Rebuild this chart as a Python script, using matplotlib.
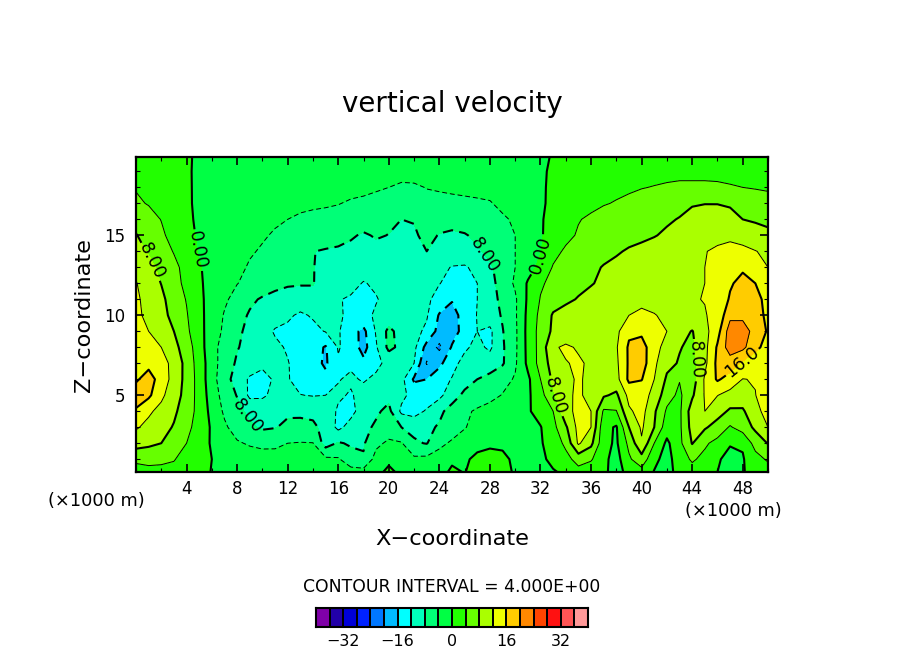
#!/usr/bin/env python
# -*- coding: utf-8 -*-
"""vertical velocity contour plot"""
import numpy as np
import matplotlib
matplotlib.use("Agg")
import matplotlib.pyplot as plt
from matplotlib.ticker import MultipleLocator

# x in km, z in km, one row of w per height
x_km = np.arange(0, 51)
z_km = [0.2] + list(range(1, 21))

w_z00 = [3.6,3.4,3.2,3.0,2.0,0.8,-0.1,-0.6,-1.0,-1.2, -1.4,-1.5,-1.5,-1.4,-1.4,-1.5,-1.6,-2.5,-2.5,-0.5, 0.4,-0.4,-1.2,-1.0,-0.8,0.4,-0.1,1.0,1.2,1.1, -0.4,-0.4,-0.3,-0.2,0.4,2.6,1.8,0.6,-1.2,1.0, 2.6,-0.2,-1.0,1.0,2.6,1.4,0.0,-1.0,-0.2,1.0,2.0]
w_z01 = [4.2,4.6,4.6,4.2,2.6,1.0,0.0,-1.0,-1.6,-2.2, -2.6,-2.7,-2.6,-2.6,-2.8,-3.2,-3.6,-6.4,-7.6,-2.4, -0.4,-1.8,-3.2,-3.0,-2.2,-0.4,-0.4,0.6,0.8,0.7, -0.6,-0.5,-0.5,0.6,2.6,5.6,4.4,1.0,-1.6,3.4, 6.4,1.0,-1.5,2.2,4.5,3.0,0.6,-1.6,-0.3,2.4,4.6]
w_z02 = [10.0,9.0,8.0,6.2,4.0,1.8,-0.4,-2.4,-3.6,-4.4, -4.8,-4.7,-4.0,-3.8,-3.9,-9.8,-7.6,-8.5,-8.4,-5.0, -3.2,-3.7,-7.5,-8.2,-5.0,-3.4,-2.4,-0.8,-0.4,-0.6, -1.0,-0.8,-0.3,1.4,5.0,12.6,9.0,1.2,-0.6,5.0, 11.5,4.0,-0.8,3.0,8.2,4.6,2.8,0.4,0.4,5.6,8.2]
w_z03 = [12.4,11.0,9.4,7.7,5.0,2.5,-0.5,-3.4,-5.6,-7.2, -8.6,-8.2,-7.2,-7.0,-7.4,-9.0,-13.0,-10.5,-9.0,-7.4, -6.4,-8.0,-9.0,-8.8,-7.6,-6.0,-4.2,-2.8,-1.8,-1.2, -0.9,-0.6,-0.2,2.8,7.4,13.2,12.0,1.2,-0.4,8.0, 12.6,8.0,1.8,3.2,9.5,8.5,6.4,3.6,5.8,8.8,12.0]
w_z04 = [15.5,12.6,10.9,8.7,6.0,2.7,-1.2,-4.6,-6.8,-9.0, -9.6,-10.0,-8.6,-8.7,-8.8,-9.5,-12.6,-13.2,-10.0,-8.6, -7.0,-12.8,-13.6,-11.5,-8.8,-6.6,-4.8,-3.4,-2.5,-1.8, -1.2,-0.5,1.6,4.0,10.8,13.0,12.0,3.4,3.8,11.4, 13.4,8.6,3.4,3.2,10.0,12.0,9.6,7.4,7.4,11.2,13.0]
w_z05 = [18.0,16.8,12.8,9.8,6.6,2.5,-1.8,-5.6,-8.2,-12.8, -12.6,-11.0,-11.4,-11.9,-12.2,-12.0,-11.4,-12.4,-10.5,-10.5, -9.0,-11.0,-13.4,-14.5,-13.0,-9.6,-7.2,-6.4,-5.2,-3.8, -2.6,-0.7,2.5,7.4,11.0,12.8,10.4,8.5,7.2,13.2, 13.4,11.0,5.5,3.2,7.4,12.3,12.1,10.6,10.5,11.9,14.5]
w_z06 = [15.5,17.5,14.5,10.4,6.8,2.4,-2.4,-6.6,-9.5,-12.6, -13.6,-11.4,-11.7,-13.6,-15.0,-15.0,-12.2,-11.4,-12.4,-11.2, -10.0,-10.8,-16.6,-16.0,-13.5,-11.8,-9.5,-8.0,-6.8,-5.4, -3.6,-0.8,4.0,8.8,11.0,12.5,11.0,10.4,10.6,16.8, 16.2,12.0,7.4,4.2,5.8,12.5,16.5,14.5,11.9,12.2,12.6]
w_z07 = [14.0,15.0,13.4,10.9,6.6,2.2,-2.2,-6.0,-8.5,-9.6, -11.0,-11.2,-11.8,-13.6,-14.6,-16.6,-12.4,-12.6,-15.0,-13.0, -10.8,-10.6,-12.0,-20.4,-17.0,-13.2,-10.8,-10.3,-10.0,-8.4, -4.6,0.9,5.4,9.8,11.8,12.5,11.4,11.0,11.2,16.6, 18.0,12.8,9.0,7.7,6.6,11.0,17.0,18.0,15.2,13.6,12.8]
w_z08 = [13.2,12.8,12.0,9.2,6.0,1.8,-2.6,-5.6,-7.8,-9.0, -10.2,-11.2,-12.4,-13.4,-14.2,-16.4,-11.7,-13.6,-17.5,-12.4, -7.0,-9.0,-11.0,-17.5,-20.8,-15.6,-12.6,-11.0,-12.7,-8.5, -4.8,1.1,5.4,11.5,12.6,11.6,11.0,11.2,11.6,16.6, 18.0,13.0,11.0,8.2,7.2,10.8,16.5,22.0,21.0,17.0,14.5]
w_z09 = [13.0,12.0,9.6,8.0,4.8,1.3,-2.0,-4.7,-7.4,-8.8, -10.4,-12.4,-12.8,-13.2,-13.0,-11.8,-11.6,-14.5,-17.0,-11.6, -7.0,-9.5,-10.8,-12.8,-17.5,-17.8,-14.5,-12.0,-12.8,-8.2, -4.8,1.2,5.4,8.7,9.6,10.2,10.8,11.2,11.0,15.2, 15.0,13.2,12.0,9.6,7.8,10.8,14.5,22.0,22.0,18.4,15.6]
w_z10 = [12.8,11.1,9.2,6.9,4.3,1.0,-1.6,-4.3,-6.6,-8.4, -9.4,-10.2,-11.4,-12.6,-11.6,-10.6,-11.5,-12.8,-13.0,-11.5, -10.2,-10.0,-10.4,-11.6,-16.4,-17.0,-15.0,-11.8,-10.0,-7.6, -4.6,1.0,5.0,8.4,9.2,9.8,10.3,10.7,11.2,12.0, 12.8,12.1,11.6,11.4,11.4,11.8,13.0,19.0,19.0,17.8,15.0]
w_z11 = [12.6,10.8,8.9,6.1,3.8,0.8,-1.4,-3.4,-5.3,-7.3, -8.4,-9.2,-9.8,-9.8,-8.6,-9.0,-11.8,-12.4,-12.6,-12.2, -11.0,-10.5,-10.6,-11.4,-13.2,-15.8,-15.0,-12.0,-9.6,-7.0, -4.6,0.6,4.2,6.3,7.4,8.2,9.0,9.6,10.1,10.6, 11.0,11.3,11.5,11.7,11.8,12.1,14.0,16.3,17.5,17.0,15.0]
w_z12 = [12.2,10.0,7.9,5.4,3.0,0.5,-1.2,-2.6,-3.9,-5.0, -6.0,-6.9,-7.5,-7.7,-7.9,-9.0,-10.2,-11.0,-12.2,-11.5, -10.8,-10.8,-11.0,-11.5,-11.9,-13.0,-13.8,-12.0,-9.2,-6.5, -3.4,0.4,3.5,5.0,6.3,7.2,7.8,8.6,9.2,9.8, 10.3,10.7,11.0,11.3,11.6,12.0,14.0,15.7,16.8,16.0,14.5]
w_z13 = [11.0,9.2,7.0,4.9,2.8,0.3,-1.2,-2.3,-3.3,-4.3, -5.0,-5.8,-6.6,-7.4,-7.9,-8.8,-9.4,-10.0,-10.6,-10.4, -10.2,-10.4,-10.2,-10.2,-11.0,-12.2,-12.4,-11.0,-8.6,-6.2, -4.0,-1.5,1.0,4.3,5.5,6.4,7.3,8.2,8.9,9.6, 10.2,10.7,11.2,11.5,11.8,12.0,13.0,14.6,15.6,14.2,12.0]
w_z14 = [9.5,7.6,5.6,3.8,1.8,-0.3,-1.4,-2.3,-3.0,-3.7, -4.3,-5.0,-5.8,-6.7,-7.9,-8.4,-8.8,-9.1,-9.5,-9.2, -9.3,-9.8,-9.2,-8.0,-9.0,-9.6,-9.6,-8.6,-7.0,-5.6, -4.0,-2.0,-0.2,2.8,4.6,5.4,6.2,7.0,7.6,8.4, 9.0,9.6,10.2,10.8,11.2,11.9,12.4,12.6,12.5,12.1,11.4]
w_z15 = [8.2,6.4,4.6,2.8,1.1,-0.5,-1.5,-2.2,-2.8,-3.3, -3.7,-4.3,-4.8,-5.2,-5.5,-5.8,-6.2,-7.5,-8.5,-7.6, -8.1,-9.0,-8.5,-7.0,-8.2,-8.8,-8.3,-7.2,-6.2,-5.2, -4.0,-2.3,-0.3,1.2,3.0,4.4,5.2,5.8,6.3,6.8, 7.2,7.8,8.6,9.2,10.0,10.8,11.3,11.6,11.2,10.2,9.2]
w_z16 = [6.5,5.2,3.9,2.5,0.9,-0.8,-1.5,-2.1,-2.6,-3.0, -3.3,-3.6,-4.0,-4.4,-4.6,-4.8,-5.0,-5.5,-6.0,-6.5, -7.2,-8.0,-7.8,-7.0,-6.5,-6.3,-6.1,-5.8,-5.4,-4.6, -3.4,-1.8,-0.3,1.0,2.5,3.8,4.6,5.2,5.6,6.0, 6.5,7.0,7.5,8.2,9.5,9.8,9.7,9.4,8.0,7.4,6.8]
w_z17 = [4.5,3.8,2.8,1.8,0.6,-0.8,-1.4,-1.9,-2.3,-2.6, -2.8,-3.0,-3.2,-3.4,-3.6,-3.7,-3.9,-4.3,-4.5,-4.8, -5.1,-5.4,-5.2,-4.9,-4.8,-4.7,-4.6,-4.5,-4.3,-3.0, -2.2,-1.3,-0.4,0.6,1.6,2.4,3.1,3.8,4.2,4.6, 5.0,5.5,6.0,6.8,7.6,7.9,7.9,7.5,7.0,6.4,5.8]
w_z18 = [3.8,3.2,2.4,1.5,0.5,-0.7,-1.2,-1.6,-1.9,-2.1, -2.3,-2.5,-2.6,-2.7,-2.8,-2.9,-3.0,-3.2,-3.4,-3.7, -4.0,-4.5,-4.4,-3.9,-3.7,-3.5,-3.3,-3.0,-2.6,-2.2, -1.7,-1.1,-0.3,0.4,1.2,1.9,2.5,3.0,3.3,3.6, 3.9,4.1,4.3,4.5,4.5,4.5,4.4,4.2,4.0,3.7,3.4]
w_z19 = [3.0,2.6,2.0,1.2,0.4,-0.6,-1.0,-1.3,-1.5,-1.6, -1.7,-1.8,-1.9,-2.0,-2.0,-2.1,-2.2,-2.3,-2.4,-2.5, -2.7,-2.9,-2.9,-2.8,-2.7,-2.6,-2.4,-2.2,-2.0,-1.7, -1.4,-1.0,-0.3,0.3,0.8,1.3,1.8,2.2,2.5,2.8, 3.0,3.2,3.3,3.3,3.3,3.3,3.3,3.2,3.0,2.9,2.7]
w_z20 = [2.0,1.8,1.5,1.0,0.4,-0.5,-0.9,-1.1,-1.2,-1.3, -1.4,-1.4,-1.5,-1.5,-1.5,-1.6,-1.6,-1.6,-1.6,-1.7, -1.8,-1.8,-1.8,-1.7,-1.6,-1.6,-1.5,-1.4,-1.3,-1.2, -1.0,-0.7,-0.3,0.1,0.5,1.0,1.4,1.7,2.0,2.2, 2.4,2.5,2.6,2.6,2.6,2.6,2.6,2.5,2.4,2.3,2.2]

# contour levels and fill colours (one colour per interval)
levels_fill = np.arange(-40, 41, 4)
colors_fill = ['#7f00a8', '#2200a8', '#0000d8', '#0022ff', '#0077ff', '#00bbff',
               '#00ffff', '#00ffbb', '#00ff77', '#00ff44', '#22ff00', '#66ff00',
               '#aaff00', '#eeff00', '#ffcc00', '#ff8800', '#ff4400', '#ff1111',
               '#ff5555', '#ff9999']
levels_plain = [-20, -16, -12, -4, 4, 12, 20]
levels_labelled = [-8, 0, 8, 16]
cbar_ticks = [-32, -16, 0, 16, 32]
x_ticks = list(range(4, 49, 4))
z_ticks = [5, 10, 15]
label_fmt = {-8: '8.00', 0: '0.00', 8: '8.00', 16: '16.0'}
label_xs = [1.3, 5.2, 8.8, 27.5, 31.5, 33.4, 44.4, 47.7]
label_zs = [13.4, 14.1, 3.7, 13.7, 13.9, 5.0, 7.2, 7.4]

w = np.array([w_z00, w_z01, w_z02, w_z03, w_z04, w_z05, w_z06, w_z07, w_z08, w_z09,
              w_z10, w_z11, w_z12, w_z13, w_z14, w_z15, w_z16, w_z17, w_z18, w_z19, w_z20])

W, H = 904, 654
fig = plt.figure(figsize=(W / 100, H / 100), dpi=100)
ax = fig.add_axes([136 / W, 1 - 472 / H, 632 / W, 315 / H])

ax.contourf(x_km, z_km, w, levels=levels_fill, colors=colors_fill)

# bold every second level, dashed below zero
dash = (0, (5, 3))
lws = [1.5 if lv % 8 == 0 else 0.7 for lv in levels_plain]
lss = [dash if lv < 0 else 'solid' for lv in levels_plain]
ax.contour(x_km, z_km, w, levels=levels_plain, colors='k', linewidths=lws, linestyles=lss)

# clabel with a subset of levels breaks on manual positions, so labelled levels get their own set
lss = [dash if lv < 0 else 'solid' for lv in levels_labelled]
cs = ax.contour(x_km, z_km, w, levels=levels_labelled, colors='k', linewidths=1.5, linestyles=lss)

ax.set_xlim(0, 50)
ax.set_ylim(0.2, 19.9)
ax.set_xticks(x_ticks)
ax.set_yticks(z_ticks)
ax.xaxis.set_minor_locator(MultipleLocator(2))
ax.yaxis.set_minor_locator(MultipleLocator(1))
ax.tick_params(which='major', direction='in', top=True, right=True, length=6, width=1.2, labelsize=12)
ax.tick_params(which='minor', direction='in', top=True, right=True, length=3, width=0.8)
ax.tick_params(axis='x', which='major', pad=6)
ax.tick_params(axis='y', which='major', pad=8)
for sp in ax.spines.values():
    sp.set_linewidth(1.6)

ax.clabel(cs, manual=list(zip(label_xs, label_zs)), fmt=label_fmt,
          fontsize=12.5, inline=True, inline_spacing=2)

fig.text(452 / W, 1 - 104 / H, 'vertical velocity', fontsize=20, ha='center', va='center')
fig.text(452 / W, 1 - 539 / H, 'X\u2212coordinate', fontsize=16.2, ha='center', va='center')
fig.text(84 / W, 1 - 315 / H, 'Z\u2212coordinate', fontsize=16.2, ha='center', va='center', rotation=90)
fig.text(96 / W, 1 - 501 / H, '(\u00d71000 m)', fontsize=12.8, ha='center', va='center')
fig.text(733 / W, 1 - 511 / H, '(\u00d71000 m)', fontsize=12.8, ha='center', va='center')
fig.text(452 / W, 1 - 587 / H, 'CONTOUR INTERVAL = 4.000E+00', fontsize=12.4, ha='center', va='center')

# colour key
cax = fig.add_axes([316 / W, 1 - 627 / H, 272 / W, 19 / H])
cax.pcolormesh(levels_fill, [0, 1], np.array([levels_fill[:-1] + 2]),
               cmap=matplotlib.colors.ListedColormap(colors_fill), vmin=-40, vmax=40,
               edgecolors='k', linewidth=1.3)
cax.set_yticks([])
cax.set_xticks(cbar_ticks)
cax.set_xticklabels(['\u221232', '\u221216', '0', '16', '32'], fontsize=11.5)
cax.tick_params(length=0, pad=5)
for sp in cax.spines.values():
    sp.set_linewidth(1.5)

plt.savefig('out.png', dpi=100)
plt.close(fig)
